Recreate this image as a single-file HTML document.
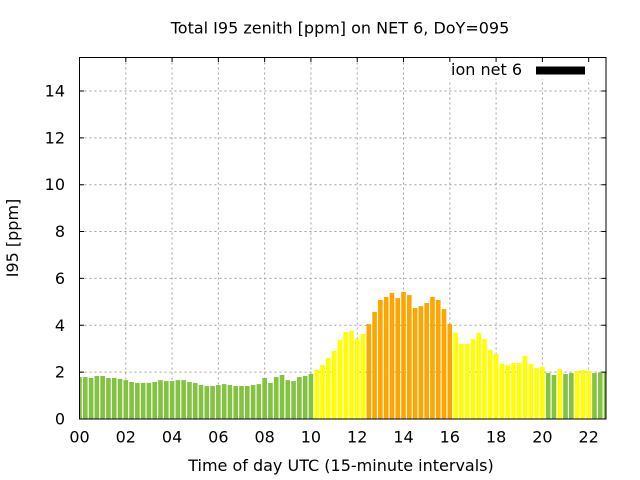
<!DOCTYPE html>
<html><head><meta charset="utf-8"><style>
html,body{margin:0;padding:0;background:#fff;}
svg{display:block;}
text{font-family:"DejaVu Sans","Liberation Sans",sans-serif;font-size:16px;fill:#000;}
</style></head><body>
<svg width="640" height="480" viewBox="0 0 640 480" xmlns="http://www.w3.org/2000/svg">
<defs>
<clipPath id="pc"><rect x="79.5" y="57.5" width="526.5" height="361.5"/></clipPath>
</defs>
<rect x="0" y="0" width="640" height="480" fill="#fff"/>
<g stroke="#a0a0a0" stroke-width="1" stroke-dasharray="2,3" fill="none">
<path d="M125.79 57.5V419M172.08 57.5V419M218.36 57.5V419M264.65 57.5V419M310.94 57.5V419M357.23 57.5V419M403.52 57.5V419M449.81 57.5V419M496.10 57.5V419M542.38 57.5V419M588.67 57.5V419"/>
<path d="M79.5 372.14H606M79.5 325.28H606M79.5 278.42H606M79.5 231.56H606M79.5 184.70H606M79.5 137.84H606M79.5 90.98H606"/>
</g>
<g clip-path="url(#pc)">
<g transform="translate(79.5,419) scale(5.786,-23.43)">
<g fill="#83c341">
<rect x="-0.4" y="0" width="0.8" height="1.79"/>
<rect x="0.6" y="0" width="0.8" height="1.79"/>
<rect x="1.6" y="0" width="0.8" height="1.75"/>
<rect x="2.6" y="0" width="0.8" height="1.835"/>
<rect x="3.6" y="0" width="0.8" height="1.835"/>
<rect x="4.6" y="0" width="0.8" height="1.75"/>
<rect x="5.6" y="0" width="0.8" height="1.75"/>
<rect x="6.6" y="0" width="0.8" height="1.71"/>
<rect x="7.6" y="0" width="0.8" height="1.66"/>
<rect x="8.6" y="0" width="0.8" height="1.58"/>
<rect x="9.6" y="0" width="0.8" height="1.54"/>
<rect x="10.6" y="0" width="0.8" height="1.54"/>
<rect x="11.6" y="0" width="0.8" height="1.54"/>
<rect x="12.6" y="0" width="0.8" height="1.58"/>
<rect x="13.6" y="0" width="0.8" height="1.66"/>
<rect x="14.6" y="0" width="0.8" height="1.62"/>
<rect x="15.6" y="0" width="0.8" height="1.62"/>
<rect x="16.6" y="0" width="0.8" height="1.66"/>
<rect x="17.6" y="0" width="0.8" height="1.66"/>
<rect x="18.6" y="0" width="0.8" height="1.58"/>
<rect x="19.6" y="0" width="0.8" height="1.54"/>
<rect x="20.6" y="0" width="0.8" height="1.45"/>
<rect x="21.6" y="0" width="0.8" height="1.41"/>
<rect x="22.6" y="0" width="0.8" height="1.41"/>
<rect x="23.6" y="0" width="0.8" height="1.45"/>
<rect x="24.6" y="0" width="0.8" height="1.49"/>
<rect x="25.6" y="0" width="0.8" height="1.45"/>
<rect x="26.6" y="0" width="0.8" height="1.41"/>
<rect x="27.6" y="0" width="0.8" height="1.41"/>
<rect x="28.6" y="0" width="0.8" height="1.41"/>
<rect x="29.6" y="0" width="0.8" height="1.45"/>
<rect x="30.6" y="0" width="0.8" height="1.49"/>
<rect x="31.6" y="0" width="0.8" height="1.75"/>
<rect x="32.6" y="0" width="0.8" height="1.54"/>
<rect x="33.6" y="0" width="0.8" height="1.79"/>
<rect x="34.6" y="0" width="0.8" height="1.88"/>
<rect x="35.6" y="0" width="0.8" height="1.66"/>
<rect x="36.6" y="0" width="0.8" height="1.62"/>
<rect x="37.6" y="0" width="0.8" height="1.79"/>
<rect x="38.6" y="0" width="0.8" height="1.835"/>
<rect x="39.6" y="0" width="0.8" height="1.92"/>
<rect x="80.6" y="0" width="0.8" height="1.96"/>
<rect x="81.6" y="0" width="0.8" height="1.88"/>
<rect x="83.6" y="0" width="0.8" height="1.92"/>
<rect x="84.6" y="0" width="0.8" height="1.96"/>
<rect x="88.6" y="0" width="0.8" height="1.96"/>
<rect x="89.6" y="0" width="0.8" height="1.99"/>
<rect x="90.6" y="0" width="0.8" height="1.99"/>
</g>
<g fill="#ffff00">
<rect x="40.6" y="0" width="0.8" height="2.10"/>
<rect x="41.6" y="0" width="0.8" height="2.30"/>
<rect x="42.6" y="0" width="0.8" height="2.60"/>
<rect x="43.6" y="0" width="0.8" height="2.90"/>
<rect x="44.6" y="0" width="0.8" height="3.37"/>
<rect x="45.6" y="0" width="0.8" height="3.71"/>
<rect x="46.6" y="0" width="0.8" height="3.76"/>
<rect x="47.6" y="0" width="0.8" height="3.41"/>
<rect x="48.6" y="0" width="0.8" height="3.63"/>
<rect x="64.6" y="0" width="0.8" height="3.67"/>
<rect x="65.6" y="0" width="0.8" height="3.20"/>
<rect x="66.6" y="0" width="0.8" height="3.20"/>
<rect x="67.6" y="0" width="0.8" height="3.41"/>
<rect x="68.6" y="0" width="0.8" height="3.67"/>
<rect x="69.6" y="0" width="0.8" height="3.41"/>
<rect x="70.6" y="0" width="0.8" height="2.94"/>
<rect x="71.6" y="0" width="0.8" height="2.77"/>
<rect x="72.6" y="0" width="0.8" height="2.35"/>
<rect x="73.6" y="0" width="0.8" height="2.30"/>
<rect x="74.6" y="0" width="0.8" height="2.39"/>
<rect x="75.6" y="0" width="0.8" height="2.39"/>
<rect x="76.6" y="0" width="0.8" height="2.69"/>
<rect x="77.6" y="0" width="0.8" height="2.35"/>
<rect x="78.6" y="0" width="0.8" height="2.18"/>
<rect x="79.6" y="0" width="0.8" height="2.22"/>
<rect x="82.6" y="0" width="0.8" height="2.13"/>
<rect x="85.6" y="0" width="0.8" height="2.05"/>
<rect x="86.6" y="0" width="0.8" height="2.09"/>
<rect x="87.6" y="0" width="0.8" height="2.05"/>
</g>
<g fill="#ffa500">
<rect x="49.6" y="0" width="0.8" height="4.05"/>
<rect x="50.6" y="0" width="0.8" height="4.57"/>
<rect x="51.6" y="0" width="0.8" height="5.08"/>
<rect x="52.6" y="0" width="0.8" height="5.21"/>
<rect x="53.6" y="0" width="0.8" height="5.38"/>
<rect x="54.6" y="0" width="0.8" height="5.16"/>
<rect x="55.6" y="0" width="0.8" height="5.42"/>
<rect x="56.6" y="0" width="0.8" height="5.29"/>
<rect x="57.6" y="0" width="0.8" height="4.74"/>
<rect x="58.6" y="0" width="0.8" height="4.82"/>
<rect x="59.6" y="0" width="0.8" height="4.95"/>
<rect x="60.6" y="0" width="0.8" height="5.21"/>
<rect x="61.6" y="0" width="0.8" height="5.08"/>
<rect x="62.6" y="0" width="0.8" height="4.69"/>
<rect x="63.6" y="0" width="0.8" height="4.05"/>
</g>
</g>
</g>
<rect x="444" y="58" width="161.5" height="21" fill="#fff"/>
<g stroke="#000" stroke-width="1" fill="none">
<path d="M79.5 372.14h4.5M79.5 325.28h4.5M79.5 278.42h4.5M79.5 231.56h4.5M79.5 184.70h4.5M79.5 137.84h4.5M79.5 90.98h4.5"/>
<path d="M606 372.14h-4.5M606 325.28h-4.5M606 278.42h-4.5M606 231.56h-4.5M606 184.70h-4.5M606 137.84h-4.5M606 90.98h-4.5"/>
<path d="M125.79 57.5v4.5M172.08 57.5v4.5M218.36 57.5v4.5M264.65 57.5v4.5M310.94 57.5v4.5M357.23 57.5v4.5M403.52 57.5v4.5M449.81 57.5v4.5M496.10 57.5v4.5M542.38 57.5v4.5M588.67 57.5v4.5"/>
</g>
<rect x="79.5" y="57.5" width="526.5" height="361.5" fill="none" stroke="#000" stroke-width="1"/>
<text x="522" y="75" text-anchor="end">ion net 6</text>
<rect x="536" y="66.5" width="49" height="8" fill="#000"/>
<g text-anchor="end">
<text x="65" y="424.5">0</text>
<text x="65" y="377.6">2</text>
<text x="65" y="330.8">4</text>
<text x="65" y="283.9">6</text>
<text x="65" y="237.1">8</text>
<text x="65" y="190.2">10</text>
<text x="65" y="143.3">12</text>
<text x="65" y="96.5">14</text>
</g>
<g text-anchor="middle">
<text x="79.5" y="442.5">00</text>
<text x="125.79" y="442.5">02</text>
<text x="172.08" y="442.5">04</text>
<text x="218.36" y="442.5">06</text>
<text x="264.65" y="442.5">08</text>
<text x="310.94" y="442.5">10</text>
<text x="357.23" y="442.5">12</text>
<text x="403.52" y="442.5">14</text>
<text x="449.81" y="442.5">16</text>
<text x="496.10" y="442.5">18</text>
<text x="542.38" y="442.5">20</text>
<text x="588.67" y="442.5">22</text>
</g>
<text x="340" y="33.5" text-anchor="middle">Total I95 zenith [ppm] on NET 6, DoY=095</text>
<text x="341" y="471" text-anchor="middle">Time of day UTC (15-minute intervals)</text>
<text transform="translate(18,238) rotate(-90)" text-anchor="middle">I95 [ppm]</text>
</svg>
</body></html>
